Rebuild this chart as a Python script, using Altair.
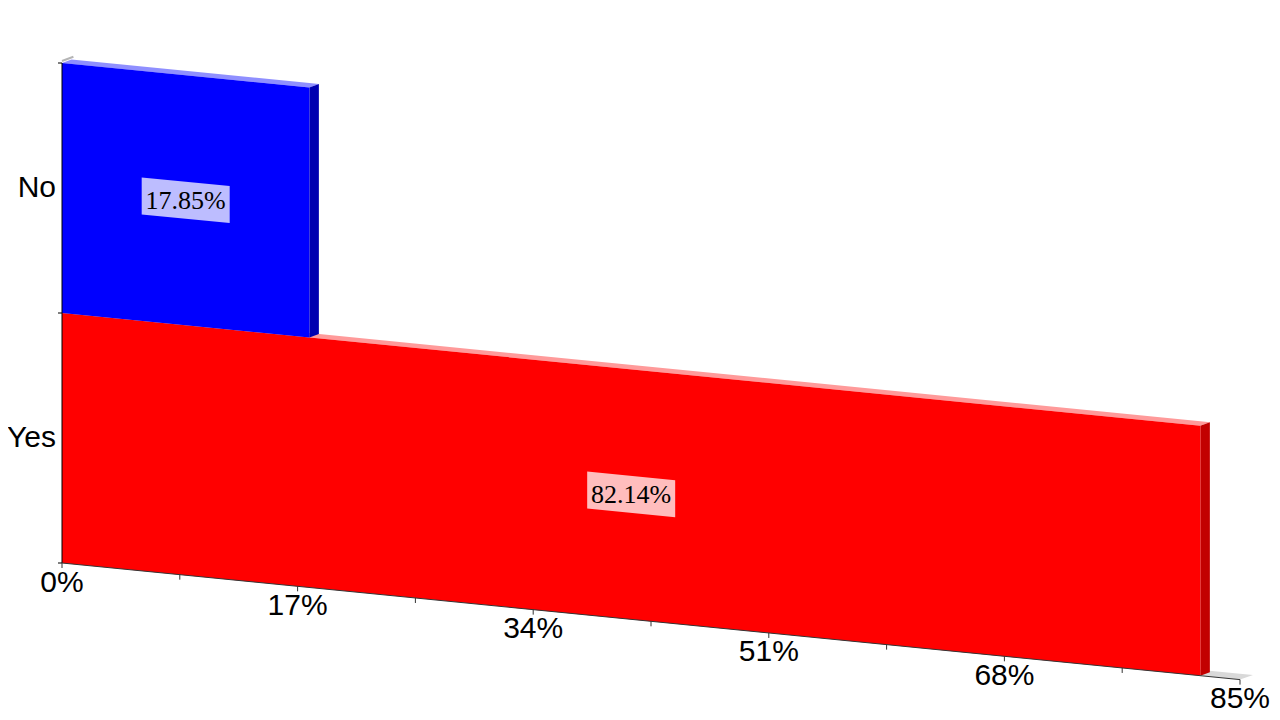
import altair as alt
import pandas as pd

# ---- data ----
categories = ["Yes", "No"]
shares = [82.14, 17.85]
value_labels = ["82.14%", "17.85%"]
front_colors = ["#ff0000", "#0000ff"]
top_colors = ["#ff9a9a", "#8f8fff"]
side_colors = ["#c20000", "#0000b0"]
tick_values = [0, 17, 34, 51, 68, 85]
tick_labels = ["0%", "17%", "34%", "51%", "68%", "85%"]
minor_ticks = [8.5, 25.5, 42.5, 59.5, 76.5]

# ---- layout / projection constants ----
W, H = 1264, 704
X0, X_SPAN, X_MAX = 54, 1178, 85
PX = X_SPAN / X_MAX            # pixels per percent
Y0, BAND = 555, 250            # bottom of bars at 0%, band height in px
K = 0.099 * PX / BAND          # skew (band units per percent)
DX, DY = 9.5 / PX, 3.5 / BAND  # depth of bars
FDX, FDY = 13 / PX, 4.5 / BAND  # depth of floor

xscale = alt.Scale(domain=[-X0 / PX, (W - X0) / PX], nice=False, zero=False)
yscale = alt.Scale(domain=[(Y0 - H) / BAND, Y0 / BAND], nice=False, zero=False)


def yl(u, x):
    return u - K * x


def X(f="x"):
    return alt.X(f"{f}:Q", scale=xscale, axis=None)


def Y(f="up"):
    return alt.Y(f"{f}:Q", scale=yscale, axis=None)


def area(rows, color, opacity=1.0):
    return alt.Chart(pd.DataFrame(rows)).mark_area(
        color=color, opacity=opacity, interpolate="linear", strokeWidth=0
    ).encode(x=X(), y=Y("up"), y2=alt.Y2("lo:Q"))


def top_face_rows(u, x0, x1, dx, dy):
    return [
        {"x": x0, "up": yl(u, x0), "lo": yl(u, x0)},
        {"x": x0 + dx, "up": yl(u, x0) + dy, "lo": yl(u, x0 + dx)},
        {"x": x1, "up": yl(u, x1 - dx) + dy, "lo": yl(u, x1)},
        {"x": x1 + dx, "up": yl(u, x1) + dy, "lo": yl(u, x1) + dy},
    ]


layers = []

# floor
layers.append(area(top_face_rows(0, 0, X_MAX, FDX, FDY), "#d9d9d9"))
# wall top edge
layers.append(
    alt.Chart(pd.DataFrame([{"x": 0, "up": 2.008}, {"x": DX * 1.2, "up": 2.008 + DY * 1.2}]))
    .mark_line(color="#b5b5b5", strokeWidth=2)
    .encode(x=X(), y=Y("up"))
)

# bars
for i, (cat, v) in enumerate(zip(categories, shares)):
    layers.append(area(top_face_rows(i + 1, 0, v, DX, DY), top_colors[i]))
    layers.append(area([
        {"x": v, "up": yl(i + 1, v), "lo": yl(i, v)},
        {"x": v + DX, "up": yl(i + 1, v) + DY, "lo": yl(i, v) + DY},
    ], side_colors[i]))
    layers.append(area([
        {"x": 0, "up": yl(i + 1, 0), "lo": yl(i, 0)},
        {"x": v, "up": yl(i + 1, v), "lo": yl(i, v)},
    ], front_colors[i]))

# y axis line and ticks
layers.append(
    alt.Chart(pd.DataFrame([{"x": 0, "up": 0, "lo": 2}]))
    .mark_rule(color="#000000", strokeWidth=1)
    .encode(x=X(), y=Y("up"), y2=alt.Y2("lo:Q"))
)
layers.append(
    alt.Chart(pd.DataFrame([{"x": -4 / PX, "x2": 0, "up": u} for u in [0, 1, 2]]))
    .mark_rule(color="#000000", strokeWidth=1)
    .encode(x=X(), x2=alt.X2("x2:Q"), y=Y("up"))
)

# x axis line and ticks
layers.append(
    alt.Chart(pd.DataFrame([{"x": 0, "up": yl(0, 0)}, {"x": X_MAX, "up": yl(0, X_MAX)}]))
    .mark_line(color="#333333", strokeWidth=1)
    .encode(x=X(), y=Y("up"))
)
layers.append(
    alt.Chart(pd.DataFrame([{"x": t, "up": yl(0, t), "lo": yl(0, t) - 5 / BAND}
                            for t in sorted(tick_values + minor_ticks)]))
    .mark_rule(color="#333333", strokeWidth=1)
    .encode(x=X(), y=Y("up"), y2=alt.Y2("lo:Q"))
)
layers.append(
    alt.Chart(pd.DataFrame([{"x": t, "up": yl(0, t), "label": l}
                            for t, l in zip(tick_values, tick_labels)]))
    .mark_text(font="Liberation Sans", fontSize=30, color="#000000",
               align="center", baseline="middle", dy=19.5)
    .encode(x=X(), y=Y("up"), text="label:N")
)

# category labels
layers.append(
    alt.Chart(pd.DataFrame([{"x": 0, "up": i + 0.5, "label": c}
                            for i, c in enumerate(categories)]))
    .mark_text(font="Liberation Sans", fontSize=30, color="#000000",
               align="right", baseline="middle", dx=-6)
    .encode(x=X(), y=Y("up"), text="label:N")
)

# value labels with skewed boxes
HW, HH = 44 / PX, 18.5 / BAND
for i, (v, lab) in enumerate(zip(shares, value_labels)):
    c = v / 2
    layers.append(area([
        {"x": c - HW, "up": yl(i + 0.5, c - HW) + HH, "lo": yl(i + 0.5, c - HW) - HH},
        {"x": c + HW, "up": yl(i + 0.5, c + HW) + HH, "lo": yl(i + 0.5, c + HW) - HH},
    ], "#ffffff", opacity=0.74))
    layers.append(
        alt.Chart(pd.DataFrame([{"x": c, "up": yl(i + 0.5, c), "label": lab}]))
        .mark_text(font="Liberation Serif", fontSize=26, color="#000000",
                   align="center", baseline="middle", dy=1)
        .encode(x=X(), y=Y("up"), text="label:N")
    )

chart = alt.layer(*layers).properties(
    width=W, height=H, padding=0, background="#ffffff",
    autosize=alt.AutoSizeParams(type="none"),
).configure_view(stroke=None)

chart.save("out.html", embed_options={"renderer": "svg", "actions": False})
